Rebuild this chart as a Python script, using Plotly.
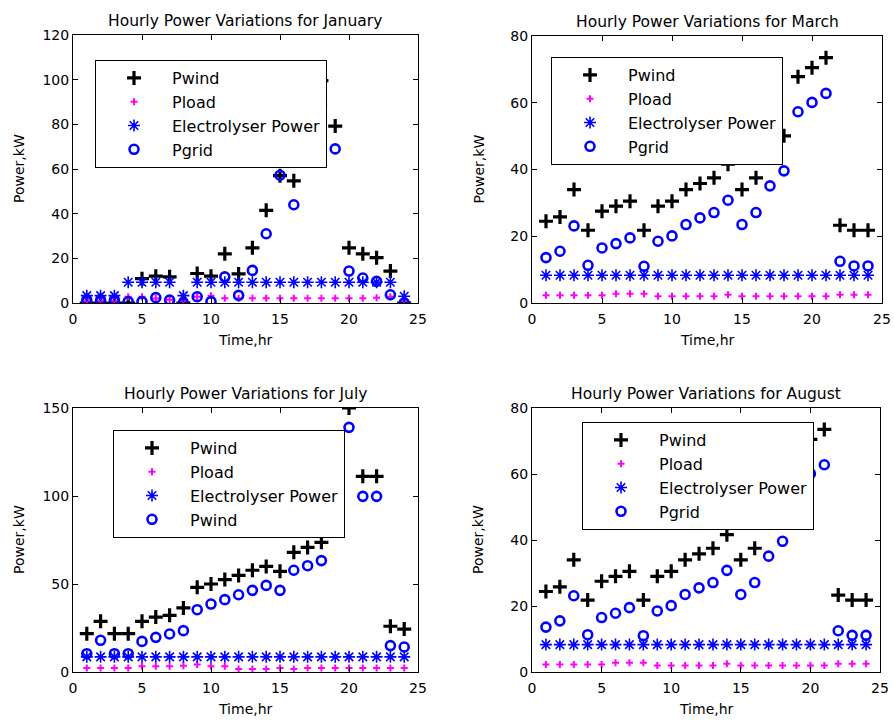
import plotly.graph_objects as go

hours = list(range(1, 25))
x_ticks = [0, 5, 10, 15, 20, 25]

# January
jan_pwind = [0, 0, 0, 0, 10.9, 12, 11.7, 0, 13.2, 12, 22, 13, 24.7, 41.5, 57, 54.7, 85, 99.6, 79.2, 24.7, 22, 20.3, 14.3, 0]
jan_pload = [1.0, 1.0, 1.0, 2.8, 2.8, 2.0, 1.5, 1.0, 2.8, 3.3, 2.1, 2.1, 2.1, 2.1, 2.1, 2.1, 2.1, 2.1, 2.1, 2.1, 2.1, 2.3, 2.8, 1.0]
jan_elec = [3.3, 3.3, 3.3, 9.3, 9.3, 9.3, 9.3, 3.3, 9.3, 9.3, 9.3, 9.3, 9.3, 9.3, 9.3, 9.3, 9.3, 9.3, 9.3, 9.3, 9.3, 9.3, 9.3, 3.0]
jan_pgrid = [1.3, 1.3, 1.3, 0.6, 0.6, 2.4, 1.3, 0, 2.8, 0.6, 11.7, 3.4, 14.6, 31, 57.2, 44, 75, 89, 69, 14.3, 11.2, 9.7, 3.7, 0]

# March
mar_pwind = [24.5, 25.8, 34, 21.8, 27.5, 29, 30.5, 21.8, 29, 30.5, 34, 35.8, 37.5, 41.6, 34, 37.5, 45.5, 50.1, 67.8, 70.5, 73.5, 23.3, 21.8, 21.8]
mar_pload = [2.3, 2.3, 2.3, 2.3, 2.3, 2.8, 2.8, 2.8, 2.0, 2.0, 2.0, 2.0, 2.0, 2.5, 2.0, 2.0, 2.0, 2.0, 2.0, 2.0, 2.0, 2.5, 2.5, 2.5]
mar_elec = [8.3] * 24
mar_pgrid = [13.6, 15.5, 23.1, 11.3, 16.5, 17.8, 19.5, 11.0, 18.5, 20.1, 23.5, 25.5, 27.1, 30.8, 23.5, 27.1, 35.1, 39.6, 57.3, 60.1, 62.8, 12.5, 11.1, 11.1]

# July
jul_pwind = [21.8, 28.8, 21.8, 21.8, 28.8, 31.2, 32.2, 36.4, 48.1, 50, 52.5, 54.9, 57.8, 60, 57.2, 68, 70.8, 73.7, 127.7, 150, 111.2, 111.2, 26, 24.4]
jul_pload = [2.3, 2.3, 2.3, 2.3, 3.2, 3.2, 3.2, 3.6, 4.2, 3.2, 3.2, 1.7, 1.7, 1.7, 2.3, 1.7, 2.3, 2.3, 2.3, 2.3, 2.3, 2.3, 2.3, 2.3]
jul_elec = [8.6] * 24
jul_pgrid = [10.4, 18, 10.4, 10.4, 17.4, 19.7, 21.6, 23.5, 35.4, 38.6, 41.1, 43.9, 46.4, 49.2, 46.4, 57.8, 60.4, 63.3, 116.9, 139, 99.8, 99.8, 15, 14.2]

# August
aug_pwind = [24.4, 25.8, 34, 21.8, 27.5, 29, 30.5, 21.8, 29, 30.5, 34, 35.8, 37.5, 41.6, 34, 37.5, 45.5, 50.1, 67.8, 70.5, 73.5, 23.3, 21.8, 21.8]
aug_pload = [2.3, 2.3, 2.3, 2.3, 2.3, 2.8, 2.8, 2.8, 2.0, 2.0, 2.0, 2.0, 2.0, 2.5, 2.0, 2.0, 2.0, 2.0, 2.0, 2.0, 2.0, 2.5, 2.5, 2.5]
aug_elec = [8.3] * 24
aug_pgrid = [13.6, 15.5, 23.1, 11.3, 16.5, 17.8, 19.5, 11.0, 18.5, 20.1, 23.5, 25.5, 27.1, 30.8, 23.5, 27.1, 35.1, 39.6, 57.3, 60.1, 62.8, 12.5, 11.1, 11.1]

W, H = 894, 721
FONT = "DejaVu Sans, sans-serif"

panels = [
    dict(title="Hourly Power Variations for January", data=[jan_pwind, jan_pload, jan_elec, jan_pgrid],
         names=["Pwind", "Pload", "Electrolyser Power", "Pgrid"], yr=[0, 120], yticks=[0, 20, 40, 60, 80, 100, 120],
         box=(73, 418, 35, 303), leg=(95, 60)),
    dict(title="Hourly Power Variations for March", data=[mar_pwind, mar_pload, mar_elec, mar_pgrid],
         names=["Pwind", "Pload", "Electrolyser Power", "Pgrid"], yr=[0, 80], yticks=[0, 20, 40, 60, 80],
         box=(532, 882, 36, 303), leg=(551, 57)),
    dict(title="Hourly Power Variations for July", data=[jul_pwind, jul_pload, jul_elec, jul_pgrid],
         names=["Pwind", "Pload", "Electrolyser Power", "Pwind"], yr=[0, 150], yticks=[0, 50, 100, 150],
         box=(73, 418, 408, 672), leg=(113, 430)),
    dict(title="Hourly Power Variations for August", data=[aug_pwind, aug_pload, aug_elec, aug_pgrid],
         names=["Pwind", "Pload", "Electrolyser Power", "Pgrid"], yr=[0, 80], yticks=[0, 20, 40, 60, 80],
         box=(532, 880, 408, 672), leg=(582, 422)),
]

styles = [
    dict(symbol="cross-thin", size=10, line=dict(width=3.2, color="black"), color="black"),
    dict(symbol="cross-thin", size=5, line=dict(width=2, color="#FF00FF"), color="#FF00FF"),
    dict(symbol="asterisk-open", size=10, line=dict(width=1.6, color="#0000FF"), color="#0000FF"),
    dict(symbol="circle-open", size=9, line=dict(width=2.6, color="#0000FF"), color="#0000FF"),
]

fig = go.Figure()
layout = dict(width=W, height=H, margin=dict(l=0, r=0, t=0, b=0, autoexpand=False),
              paper_bgcolor="white", plot_bgcolor="white", showlegend=True,
              font=dict(family=FONT, size=14, color="black"))
annotations = []

for i, p in enumerate(panels):
    k = i + 1
    xa = "x" if k == 1 else f"x{k}"
    ya = "y" if k == 1 else f"y{k}"
    lg = "legend" if k == 1 else f"legend{k}"
    for j, (vals, nm) in enumerate(zip(p["data"], p["names"])):
        fig.add_trace(go.Scatter(x=hours, y=vals, mode="markers", name=nm,
                                 marker=styles[j], xaxis=xa, yaxis=ya,
                                 legend=lg, legendgroup=f"{k}_{j}"))
    x0, x1, y0, y1 = p["box"]
    xd = [x0 / W, x1 / W]
    yd = [1 - y1 / H, 1 - y0 / H]
    axcommon = dict(showline=True, linecolor="black", linewidth=1, mirror="ticks",
                    ticks="inside", ticklen=5, tickcolor="black", showgrid=False,
                    zeroline=False, automargin=False, tickfont=dict(size=14, family=FONT))
    layout["xaxis" if k == 1 else f"xaxis{k}"] = dict(
        domain=xd, range=[0, 25], tickvals=x_ticks, anchor=ya, ticklabelstandoff=3, **axcommon)
    layout["yaxis" if k == 1 else f"yaxis{k}"] = dict(
        domain=yd, range=p["yr"], tickvals=p["yticks"], anchor=xa, **axcommon)
    lx, ly = p["leg"]
    layout[lg] = dict(x=lx / W, y=1 - ly / H, xanchor="left", yanchor="top",
                      bgcolor="white", bordercolor="black", borderwidth=1,
                      font=dict(size=16, family=FONT), itemwidth=66,
                      tracegroupgap=0, traceorder="grouped")
    annotations.append(dict(text=p["title"], x=(x0 + x1) / 2 / W, y=1 - (y0 - 3) / H,
                            xref="paper", yref="paper", xanchor="center", yanchor="bottom",
                            showarrow=False, font=dict(size=15.5, family=FONT)))
    annotations.append(dict(text="Time,hr", x=(x0 + x1) / 2 / W, y=1 - (y1 + 37) / H,
                            xref="paper", yref="paper", xanchor="center", yanchor="middle",
                            showarrow=False, font=dict(size=14, family=FONT)))
    annotations.append(dict(text="Power,kW", x=(x0 - 54) / W, y=1 - (y0 + y1) / 2 / H,
                            xref="paper", yref="paper", xanchor="center", yanchor="middle",
                            textangle=-90, showarrow=False, font=dict(size=14, family=FONT)))

layout["annotations"] = annotations
fig.update_layout(**layout)
fig.write_html("out.html", config={"displayModeBar": False},
               post_script="document.body.style.margin='0';document.body.style.overflow='hidden';")
